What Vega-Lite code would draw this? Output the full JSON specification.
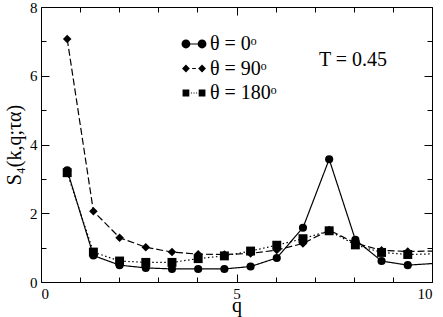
{
  "$schema": "https://vega.github.io/schema/vega-lite/v6.json",
  "width": 391,
  "height": 275,
  "autosize": {"type": "none"},
  "padding": {"left": 41, "top": 7, "right": 11, "bottom": 35},
  "background": "white",
  "config": {
    "view": {"stroke": "black", "strokeWidth": 1},
    "font": "Liberation Serif",
    "axis": {
      "grid": false,
      "domain": false,
      "tickColor": "black",
      "labelColor": "black",
      "titleColor": "black",
      "labelFont": "Liberation Serif",
      "titleFont": "Liberation Serif",
      "labelFontSize": 15,
      "titleFontSize": 20,
      "titleFontWeight": "normal"
    }
  },
  "datasets": {
    "s4": [
      {"q": 0.67, "S": 3.25, "theta": "θ = 0ᵒ"},
      {"q": 1.34, "S": 0.77, "theta": "θ = 0ᵒ"},
      {"q": 2.01, "S": 0.49, "theta": "θ = 0ᵒ"},
      {"q": 2.68, "S": 0.41, "theta": "θ = 0ᵒ"},
      {"q": 3.35, "S": 0.38, "theta": "θ = 0ᵒ"},
      {"q": 4.02, "S": 0.38, "theta": "θ = 0ᵒ"},
      {"q": 4.69, "S": 0.38, "theta": "θ = 0ᵒ"},
      {"q": 5.36, "S": 0.45, "theta": "θ = 0ᵒ"},
      {"q": 6.03, "S": 0.70, "theta": "θ = 0ᵒ"},
      {"q": 6.70, "S": 1.58, "theta": "θ = 0ᵒ"},
      {"q": 7.37, "S": 3.57, "theta": "θ = 0ᵒ"},
      {"q": 8.04, "S": 1.23, "theta": "θ = 0ᵒ"},
      {"q": 8.71, "S": 0.61, "theta": "θ = 0ᵒ"},
      {"q": 9.38, "S": 0.49, "theta": "θ = 0ᵒ"},
      {"q": 10.05, "S": 0.54, "theta": "θ = 0ᵒ"},
      {"q": 0.67, "S": 7.07, "theta": "θ = 90ᵒ"},
      {"q": 1.34, "S": 2.06, "theta": "θ = 90ᵒ"},
      {"q": 2.01, "S": 1.29, "theta": "θ = 90ᵒ"},
      {"q": 2.68, "S": 1.01, "theta": "θ = 90ᵒ"},
      {"q": 3.35, "S": 0.87, "theta": "θ = 90ᵒ"},
      {"q": 4.02, "S": 0.81, "theta": "θ = 90ᵒ"},
      {"q": 4.69, "S": 0.80, "theta": "θ = 90ᵒ"},
      {"q": 5.36, "S": 0.83, "theta": "θ = 90ᵒ"},
      {"q": 6.03, "S": 0.93, "theta": "θ = 90ᵒ"},
      {"q": 6.70, "S": 1.12, "theta": "θ = 90ᵒ"},
      {"q": 7.37, "S": 1.51, "theta": "θ = 90ᵒ"},
      {"q": 8.04, "S": 1.13, "theta": "θ = 90ᵒ"},
      {"q": 8.71, "S": 0.92, "theta": "θ = 90ᵒ"},
      {"q": 9.38, "S": 0.89, "theta": "θ = 90ᵒ"},
      {"q": 10.05, "S": 0.90, "theta": "θ = 90ᵒ"},
      {"q": 0.67, "S": 3.18, "theta": "θ = 180ᵒ"},
      {"q": 1.34, "S": 0.87, "theta": "θ = 180ᵒ"},
      {"q": 2.01, "S": 0.61, "theta": "θ = 180ᵒ"},
      {"q": 2.68, "S": 0.57, "theta": "θ = 180ᵒ"},
      {"q": 3.35, "S": 0.57, "theta": "θ = 180ᵒ"},
      {"q": 4.02, "S": 0.68, "theta": "θ = 180ᵒ"},
      {"q": 4.69, "S": 0.76, "theta": "θ = 180ᵒ"},
      {"q": 5.36, "S": 0.90, "theta": "θ = 180ᵒ"},
      {"q": 6.03, "S": 1.07, "theta": "θ = 180ᵒ"},
      {"q": 6.70, "S": 1.26, "theta": "θ = 180ᵒ"},
      {"q": 7.37, "S": 1.49, "theta": "θ = 180ᵒ"},
      {"q": 8.04, "S": 1.08, "theta": "θ = 180ᵒ"},
      {"q": 8.71, "S": 0.86, "theta": "θ = 180ᵒ"},
      {"q": 9.38, "S": 0.80, "theta": "θ = 180ᵒ"},
      {"q": 10.05, "S": 0.82, "theta": "θ = 180ᵒ"}
    ]
  },
  "data": {"name": "s4"},
  "resolve": {
    "scale": {"shape": "independent"},
    "axis": {"x": "independent", "y": "independent"}
  },
  "layer": [
    {
      "mark": {"type": "line", "clip": true, "color": "black", "strokeWidth": 1.2},
      "encoding": {
        "x": {
          "field": "q", "type": "quantitative",
          "scale": {"domain": [0, 10], "nice": false, "zero": false},
          "axis": {
            "orient": "bottom",
            "values": [0, 1, 2, 3, 4, 5, 6, 7, 8, 9, 10],
            "labelExpr": "datum.value % 5 === 0 ? datum.label : ''",
            "tickSize": {"condition": {"test": "datum.value % 5 === 0", "value": -8}, "value": -5},
            "labelPadding": 12,
            "labelFontSize": 15,
            "labelColor": "black",
            "labelFont": "Liberation Serif",
            "title": "q",
            "titlePadding": -6
          }
        },
        "y": {
          "field": "S", "type": "quantitative",
          "scale": {"domain": [0, 8], "nice": false},
          "axis": {
            "orient": "left",
            "values": [0, 1, 2, 3, 4, 5, 6, 7, 8],
            "labelExpr": "datum.value % 2 === 0 ? datum.label : ''",
            "tickSize": {"condition": {"test": "datum.value % 2 === 0", "value": -8}, "value": -5},
            "labelPadding": 12,
            "labelFontSize": 15,
            "labelColor": "black",
            "labelFont": "Liberation Serif",
            "title": "S₄(k,q;τα)",
            "titlePadding": 5
          }
        },
        "detail": {"field": "theta"},
        "strokeDash": {
          "field": "theta", "type": "nominal",
          "scale": {"domain": ["θ = 0ᵒ", "θ = 90ᵒ", "θ = 180ᵒ"], "range": [[1, 0], [7, 3], [1.5, 2.5]]},
          "legend": null
        }
      }
    },
    {
      "transform": [{"filter": "datum.q <= 10"}],
      "mark": {"type": "point", "filled": true, "color": "black", "opacity": 1},
      "encoding": {
        "x": {
          "field": "q", "type": "quantitative",
          "scale": {"domain": [0, 10], "nice": false, "zero": false},
          "axis": {
            "orient": "top",
            "values": [0, 1, 2, 3, 4, 5, 6, 7, 8, 9, 10],
            "labels": false,
            "tickSize": {"condition": {"test": "datum.value % 5 === 0", "value": -8}, "value": -5},
            "title": null
          }
        },
        "y": {
          "field": "S", "type": "quantitative",
          "scale": {"domain": [0, 8], "nice": false},
          "axis": {
            "orient": "right",
            "values": [0, 1, 2, 3, 4, 5, 6, 7, 8],
            "labels": false,
            "tickSize": {"condition": {"test": "datum.value % 2 === 0", "value": -8}, "value": -5},
            "title": null
          }
        },
        "shape": {
          "field": "theta", "type": "nominal",
          "scale": {"domain": ["θ = 0ᵒ", "θ = 90ᵒ", "θ = 180ᵒ"], "range": ["circle", "diamond", "square"]},
          "legend": null
        },
        "size": {
          "field": "theta", "type": "nominal",
          "scale": {"domain": ["θ = 0ᵒ", "θ = 90ᵒ", "θ = 180ᵒ"], "range": [66, 80, 64]},
          "legend": null
        }
      }
    },
    {
      "transform": [{"filter": "datum.q > 100"}],
      "mark": {"type": "point", "filled": true, "color": "black"},
      "encoding": {
        "x": {"field": "q", "type": "quantitative", "axis": null},
        "y": {"field": "S", "type": "quantitative", "axis": null},
        "shape": {
          "field": "theta", "type": "nominal",
          "scale": {
            "domain": ["θ = 0ᵒ", "θ = 90ᵒ", "θ = 180ᵒ"],
            "range": [
              "M-0.96,0A0.34,0.34,0,1,1,-0.28,0A0.34,0.34,0,1,1,-0.96,0ZM-0.62,-0.045H0.62V0.045H-0.62ZM0.28,0A0.34,0.34,0,1,1,0.96,0A0.34,0.34,0,1,1,0.28,0Z",
              "M-0.62,-0.3L-0.32,0L-0.62,0.3L-0.92,0ZM-0.14,-0.045H0.14V0.045H-0.14ZM0.62,-0.3L0.92,0L0.62,0.3L0.32,0Z",
              "M-0.88,-0.27H-0.36V0.27H-0.88ZM-0.24,-0.04H-0.16V0.04H-0.24ZM-0.04,-0.04H0.04V0.04H-0.04ZM0.16,-0.04H0.24V0.04H0.16ZM0.36,-0.27H0.88V0.27H0.36Z"
            ]
          },
          "legend": {
            "orient": "none",
            "legendX": 140,
            "legendY": 24,
            "title": null,
            "padding": 0,
            "symbolSize": 676,
            "symbolFillColor": "black",
            "symbolStrokeWidth": 0,
            "symbolOpacity": 1,
            "labelFont": "Liberation Serif",
            "labelFontSize": 20,
            "labelColor": "black",
            "labelOffset": 3,
            "rowPadding": 1.5
          }
        }
      }
    },
    {
      "data": {"values": [{"label": "T = 0.45"}]},
      "mark": {"type": "text", "font": "Liberation Serif", "fontSize": 20, "color": "black", "align": "center", "baseline": "middle"},
      "encoding": {
        "x": {"datum": 7.98, "type": "quantitative", "axis": null},
        "y": {"datum": 6.46, "type": "quantitative", "axis": null},
        "text": {"field": "label"}
      }
    }
  ]
}
